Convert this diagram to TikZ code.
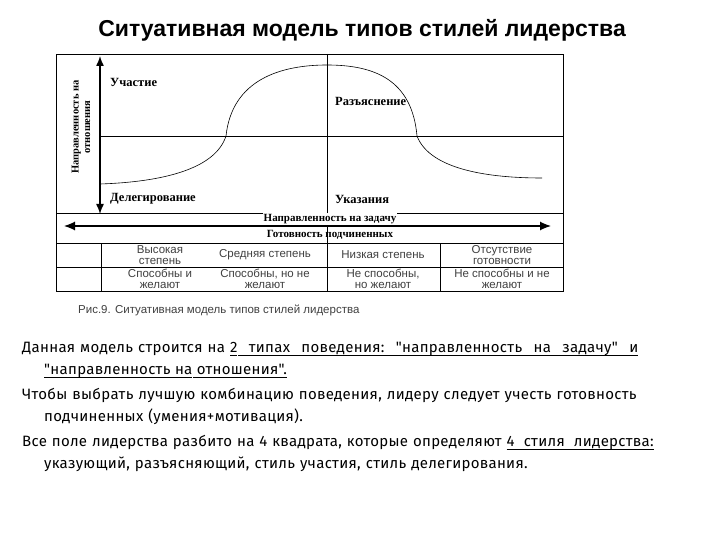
\documentclass[tikz,border=0pt]{standalone}
\usepackage{fontspec}
\usetikzlibrary{arrows.meta}
\setmainfont{Liberation Serif}
\newfontfamily\ar{Liberation Sans}
\newfontfamily\cm[LetterSpace=2]{Fira Sans}
\newcommand\uw[1]{\setbox0\hbox{#1}\rlap{\vrule height -2pt depth 2.7pt width \wd0}\box0}
\newcommand\us{\leaders\hbox{\vrule height -2pt depth 2.7pt width 0.2pt}\hskip 0.3em plus 0.3em minus 0.1em\relax}
\begin{document}
\begin{tikzpicture}[x=1pt,y=-1pt,
 ln/.style={line width=0.7pt},
 lab/.style={font=\fontsize{12.5}{13}\selectfont\bfseries, anchor=west, inner sep=0},
 cell/.style={font=\ar\fontsize{11.5}{11.5}\selectfont, text=black!75, align=center, inner sep=0}]
\useasboundingbox (0,0) rectangle (720,540);
\fill[white] (0,0) rectangle (720,540);
\node (title) at (362,30) {\ar\bfseries\fontsize{23}{26}\selectfont Ситуативная модель типов стилей лидерства};
\draw[ln] (56,54) rectangle (563,291);
\draw[ln] (327,54) -- (327,291);
\draw[ln] (100,136) -- (563,136);
\draw[ln] (56,213) -- (563,213);
\draw[ln] (56,243) -- (563,243);
\draw[ln] (56,267) -- (563,267);
\draw[ln] (101,243) -- (101,291);
\draw[ln] (440,243) -- (440,291);
\coordinate (vt) at (100,56); \coordinate (vb) at (100,214);
\draw[{Latex[length=10pt,width=8pt]}-{Latex[length=10pt,width=8pt]}, line width=1.4pt] (vt) -- (vb);
\coordinate (hl) at (64,226); \coordinate (hr) at (551,226);
\draw[{Latex[length=11pt,width=9pt]}-{Latex[length=11pt,width=9pt]}, line width=1.2pt] (hl) -- (hr);
\draw[line width=0.6pt] (100,184) .. controls (160,182) and (215,170) .. (226,136)
  .. controls (232,80) and (280,65) .. (327,65)
  .. controls (375,65) and (412,80) .. (417,136)
  .. controls (430,170) and (490,178) .. (542,178);
\node[lab] (uch) at (110,82) {Участие};
\node[lab] (raz) at (335,101) {Разъяснение};
\node[lab] (del) at (110,199) {Делегирование};
\node[lab] (uk) at (335,199) {Указания};
\node[rotate=90, align=center, font=\fontsize{10.5}{11.5}\selectfont\bfseries, inner sep=0] (vl) at (81,127) {Направленность на\\отношения};
\node[font=\fontsize{11}{12}\selectfont\bfseries, fill=white, inner sep=1pt] (tz) at (330,219) {Направленность на задачу};
\node[font=\fontsize{11}{12}\selectfont\bfseries, inner sep=0] (gp) at (330,235) {Готовность подчиненных};
\node[cell] (c11) at (160,255) {Высокая\\степень};
\node[cell] (c12) at (265,255) {Средняя степень};
\node[cell] (c13) at (383,255) {Низкая степень};
\node[cell] (c14) at (502,255) {Отсутствие\\готовности};
\node[cell] (c21) at (160,279) {Способны и\\желают};
\node[cell] (c22) at (265,279) {Способны, но не\\желают};
\node[cell] (c23) at (383,279) {Не способны,\\но желают};
\node[cell] (c24) at (502,279) {Не способны и не\\желают};
\node[anchor=west, font=\ar\fontsize{11.5}{12}\selectfont, text=black!75, inner sep=0] (cap) at (78,310) {Рис.9. Ситуативная модель типов стилей лидерства};
\node[anchor=north west, inner sep=0, text width=662pt, font=\cm\fontsize{15}{22}\selectfont] (txt) at (22,342) {%
\setlength{\parskip}{3pt}%
\hangindent=22pt\hangafter=1 Данная модель строится на \uw{2}\us\uw{типах}\us\uw{поведения:}\us\uw{"направленность}\us\uw{на}\us\uw{задачу"}\us\uw{и}\us\uw{"направленность}\us\uw{на}\us\uw{отношения".}\par
\hangindent=22pt\hangafter=1 Чтобы выбрать лучшую комбинацию поведения, лидеру следует учесть готовность подчиненных (умения+мотивация).\par
\hangindent=22pt\hangafter=1 Все поле лидерства разбито на 4 квадрата, которые определяют \uw{4}\us\uw{стиля}\us\uw{лидерства:}\ указующий, разъясняющий, стиль участия, стиль делегирования.\par};
\end{tikzpicture}
\end{document}
